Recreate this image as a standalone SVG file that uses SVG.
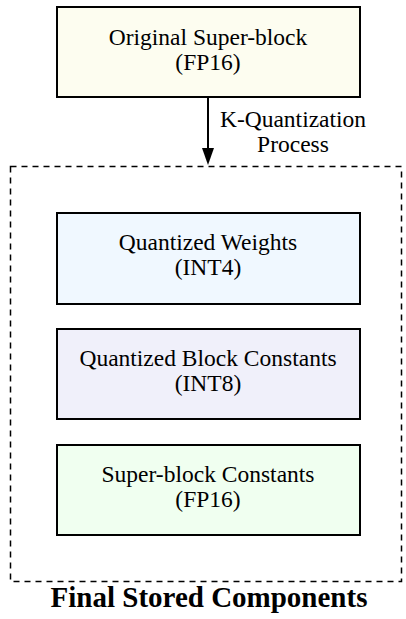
<svg xmlns="http://www.w3.org/2000/svg" width="406" height="619" viewBox="0 0 406 619">
<style>
.box{stroke:#000;stroke-width:2}
.t{font-family:"Liberation Serif","Times New Roman",serif;font-size:23.5px;fill:#000;text-anchor:middle}
.title{font-family:"Liberation Serif","Times New Roman",serif;font-size:29px;font-weight:bold;fill:#000;text-anchor:middle}
</style>
<g id="container">
<rect x="10.5" y="166.5" width="391" height="415" fill="none" stroke="#000" stroke-width="1.5" stroke-dasharray="6,5"/>
<text class="title" x="209" y="607">Final Stored Components</text>
</g>
<g id="original">
<rect class="box" x="57" y="7" width="303" height="90" fill="#fdfdf0"/>
<text class="t" x="208" y="45">Original Super-block</text>
<text class="t" x="208" y="70">(FP16)</text>
</g>
<g id="weights">
<rect class="box" x="57" y="213" width="303" height="91" fill="#f0f8ff"/>
<text class="t" x="208" y="250">Quantized Weights</text>
<text class="t" x="208" y="275">(INT4)</text>
</g>
<g id="blockconst">
<rect class="box" x="57" y="329" width="303" height="90" fill="#f0f0fa"/>
<text class="t" x="208" y="366">Quantized Block Constants</text>
<text class="t" x="208" y="391">(INT8)</text>
</g>
<g id="superconst">
<rect class="box" x="57" y="445" width="303" height="90" fill="#f0fff0"/>
<text class="t" x="208" y="482">Super-block Constants</text>
<text class="t" x="208" y="507">(FP16)</text>
</g>
<g id="connectors">
<path d="M208,97 L208,148" stroke="#000" stroke-width="2" fill="none"/>
<path d="M202,148 L214,148 L208,165 Z" fill="#000"/>
<text class="t" x="293" y="127">K-Quantization</text>
<text class="t" x="293" y="152">Process</text>
</g>
</svg>
